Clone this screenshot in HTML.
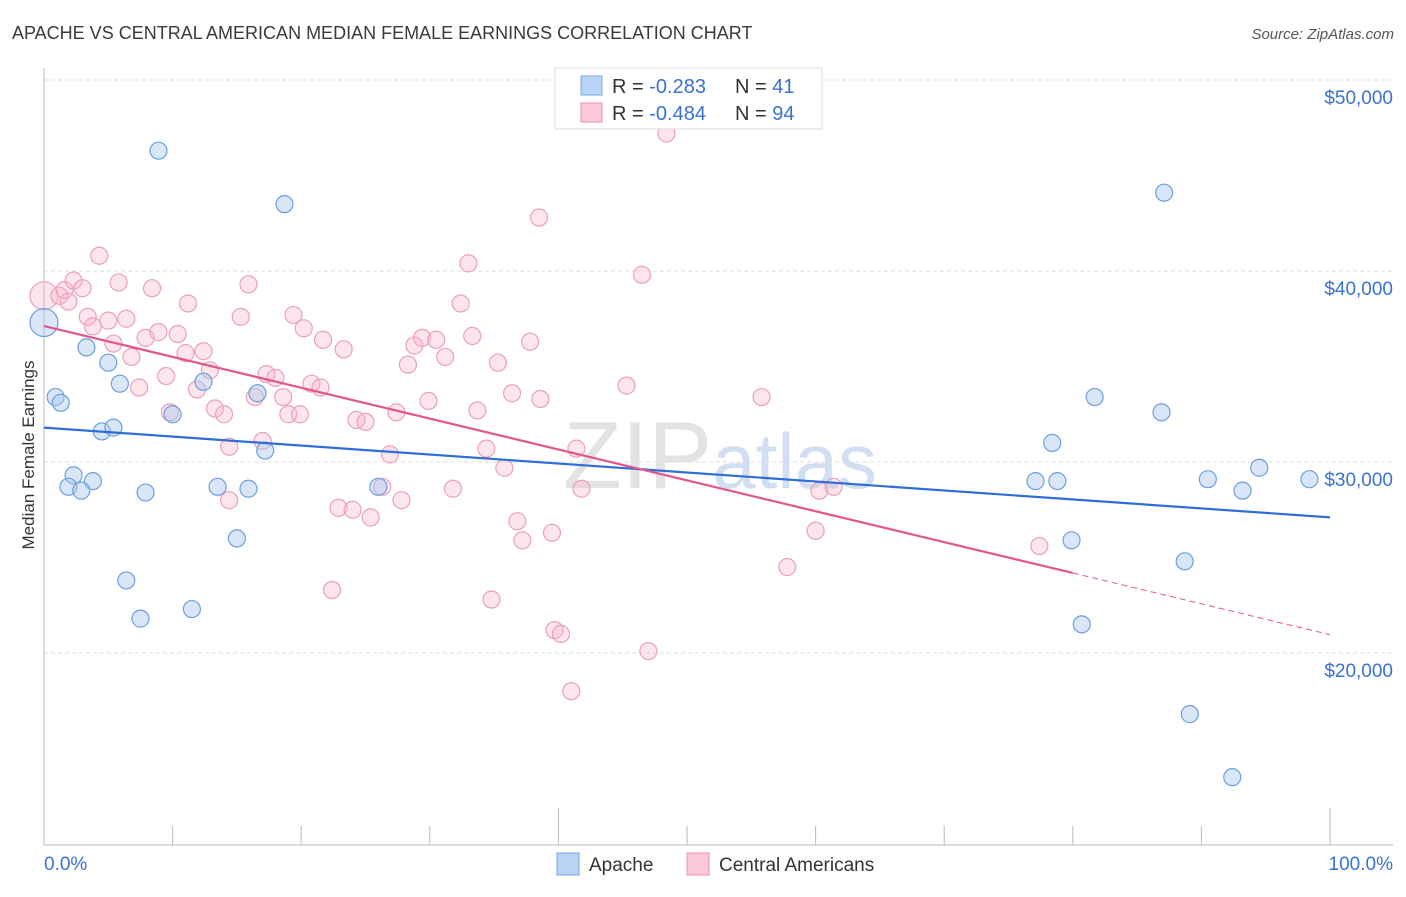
<!DOCTYPE html>
<html><head><meta charset="utf-8">
<style>
body{margin:0;background:#fff;font-family:"Liberation Sans",sans-serif;}
svg text{font-family:"Liberation Sans",sans-serif;}
</style></head>
<body>
<svg id="chart" width="1406" height="892" xmlns="http://www.w3.org/2000/svg">
<text x="12" y="39" font-size="18" fill="#3a3a3a">APACHE VS CENTRAL AMERICAN MEDIAN FEMALE EARNINGS CORRELATION CHART</text>
<text x="1394" y="39" font-size="15" fill="#555" text-anchor="end" font-style="italic">Source: ZipAtlas.com</text>
<text x="720" y="488" font-size="96" text-anchor="middle" font-family="Liberation Serif" fill="#ddd" opacity="0.8">ZIP<tspan fill="#c8d8f0" font-family="Liberation Sans" font-size="78">atlas</tspan></text>
<g id="grid"></g>
<g id="axes"></g>
<g id="trend"></g>
<g id="pts"></g>
<text transform="translate(34,455) rotate(-90)" font-size="17" fill="#333" text-anchor="middle">Median Female Earnings</text>
<g>
<rect x="555" y="68" width="267" height="61" fill="#fff" stroke="#ddd"/>
<rect x="581" y="76" width="21" height="19" fill="#b8d3f5" stroke="#7aa8e0"/>
<rect x="581" y="103" width="21" height="19" fill="#fcc9d8" stroke="#e890b0"/>
<text x="612" y="93" font-size="20" fill="#333">R = <tspan fill="#3a72d0"> -0.283</tspan><tspan x="735">N = </tspan><tspan fill="#3a72d0"> 41</tspan></text>
<text x="612" y="120" font-size="20" fill="#333">R = <tspan fill="#3a72d0">-0.484</tspan><tspan x="735">N = </tspan><tspan fill="#3a72d0">94</tspan></text>
</g>
<g>
<rect x="557" y="853" width="22" height="22" fill="#b8d3f5" stroke="#7aa8e0"/>
<text x="589" y="871" font-size="19" fill="#333">Apache</text>
<rect x="687" y="853" width="22" height="22" fill="#fcc9d8" stroke="#e890b0"/>
<text x="719" y="871" font-size="19" fill="#333">Central Americans</text>
</g>
</svg>
<script>
const yTicks=[20000,30000,40000,50000];
const yTickLabels=["$20,000","$30,000","$40,000","$50,000"];
const xTickLabels=["0.0%","100.0%"];
const apacheX=[8.9,18.7,87.1,3.3,5.0,5.9,12.4,0.9,1.3,10.0,4.5,5.4,16.6,17.2,2.3,3.8,1.9,2.9,7.9,13.5,15.9,26.0,15.0,6.4,7.5,11.5,78.4,81.7,86.9,77.1,78.8,90.5,94.5,93.2,98.4,79.9,88.7,80.7,89.1,92.4,0];
const apacheY=[46300,43500,44100,36000,35200,34100,34200,33400,33100,32500,31600,31800,33600,30600,29300,29000,28700,28500,28400,28700,28600,28700,26000,23800,21800,22300,31000,33400,32600,29000,29000,29100,29700,28500,29100,25900,24800,21500,16800,13500,37300];
const centralX=[0,1.2,1.6,2.3,1.9,3.0,4.3,5.8,8.4,3.4,3.8,5.0,6.4,5.4,6.8,7.9,8.9,10.4,11.2,15.9,15.3,19.4,20.2,21.7,23.3,11.0,12.4,12.9,9.5,7.4,11.9,9.8,13.3,14.0,14.4,17.0,16.4,17.3,18.0,18.6,19.0,19.9,20.8,21.5,24.3,25.0,27.4,26.9,26.3,22.9,24.0,25.4,27.8,22.4,28.3,28.8,29.4,30.5,31.2,32.4,33.0,33.3,35.3,37.8,38.5,29.9,31.8,33.7,34.4,35.8,36.4,38.6,36.8,37.2,39.5,41.4,41.8,34.8,39.7,40.2,41.0,47.0,46.5,48.4,45.3,55.8,60.0,57.8,60.3,61.4,77.4,14.4];
const centralY=[38700,38700,39000,39500,38400,39100,40800,39400,39100,37600,37100,37400,37500,36200,35500,36500,36800,36700,38300,39300,37600,37700,37000,36400,35900,35700,35800,34800,34500,33900,33800,32600,32800,32500,30800,31100,33400,34600,34400,33400,32500,32500,34100,33900,32200,32100,32600,30400,28700,27600,27500,27100,28000,23300,35100,36100,36500,36400,35500,38300,40400,36600,35200,36300,42800,33200,28600,32700,30700,29700,33600,33300,26900,25900,26300,30700,28600,22800,21200,21000,18000,20100,39800,47200,34000,33400,26400,24500,28500,28700,25600,28000];
const apacheTrend=[[0,31800],[100,27100]];
const centralTrend=[[0,37120],[80,24190],[100,20960]];

const NS="http://www.w3.org/2000/svg";
const X0=44,X1=1330,YB=845;
const sx=v=>X0+(X1-X0)*v/100;
const sy=v=>80+(50000-v)*191/10000;
function mk(tag,attrs,parent){const e=document.createElementNS(NS,tag);for(const k in attrs)e.setAttribute(k,attrs[k]);parent.appendChild(e);return e;}
const grid=document.getElementById('grid'),axes=document.getElementById('axes'),trend=document.getElementById('trend'),pts=document.getElementById('pts');
yTicks.forEach((t,i)=>{
  const l=mk('line',{x1:X0,x2:1393,y1:sy(t),y2:sy(t),stroke:'#ddd','stroke-dasharray':'4,3'},grid);
  
  
  const tx=mk('text',{x:1393,y:sy(t)+24,'font-size':19,fill:'#3a72d0','text-anchor':'end'},axes);
  tx.textContent=yTickLabels[i];
  
  
});
mk('line',{x1:X0,x2:X0,y1:68,y2:YB,stroke:'#bbb'},axes);
mk('line',{x1:X0,x2:1393,y1:YB,y2:YB,stroke:'#bbb'},axes);
for(let i=1;i<=10;i++){
  const x=sx(i*10);const top=(i==4||i==10)?808:826;
  const t=mk('line',{x1:x,x2:x,y1:top,y2:YB,stroke:'#bbb'},axes);
  
  
}
const xl0=mk('text',{x:44,y:870,'font-size':19,fill:'#3a72d0'},axes);xl0.textContent=xTickLabels[0];


const xl1=mk('text',{x:1393,y:870,'font-size':19,fill:'#3a72d0','text-anchor':'end'},axes);xl1.textContent=xTickLabels[1];



centralX.forEach((v,i)=>{
  const c=mk('circle',{cx:sx(v),cy:sy(centralY[i]),r:i==0?14:8.5,fill:'rgba(248,180,200,0.35)',stroke:'#eba0bb','stroke-width':1.2},pts);
  
  
});
apacheX.forEach((v,i)=>{
  const c=mk('circle',{cx:sx(v),cy:sy(apacheY[i]),r:i==apacheX.length-1?14:8.5,fill:'rgba(168,200,240,0.45)',stroke:'#6e9fdc','stroke-width':1.2},pts);
  
  
});
const bt=mk('line',{x1:sx(apacheTrend[0][0]),y1:sy(apacheTrend[0][1]),x2:sx(apacheTrend[1][0]),y2:sy(apacheTrend[1][1]),stroke:'#2d6fd6','stroke-width':2.2},trend);


const pt=mk('line',{x1:sx(centralTrend[0][0]),y1:sy(centralTrend[0][1]),x2:sx(centralTrend[1][0]),y2:sy(centralTrend[1][1]),stroke:'#e2578a','stroke-width':2.2},trend);


const pd=mk('line',{x1:sx(centralTrend[1][0]),y1:sy(centralTrend[1][1]),x2:sx(centralTrend[2][0]),y2:sy(centralTrend[2][1]),stroke:'#e2578a','stroke-width':1,'stroke-dasharray':'6,4'},trend);


document.getElementById('chart').appendChild(trend);
</script>
</body></html>
